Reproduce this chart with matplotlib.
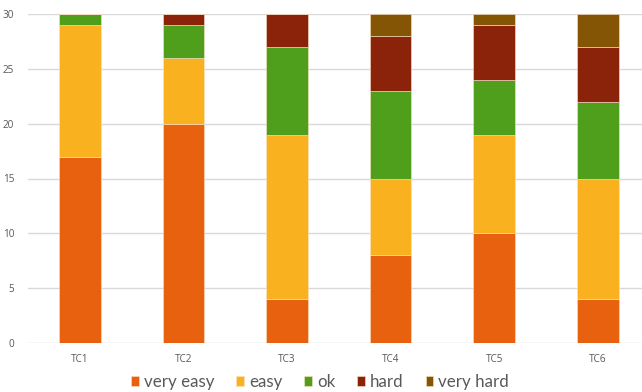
import matplotlib
matplotlib.use("Agg")
import matplotlib.pyplot as plt
import numpy as np

categories = ["TC1", "TC2", "TC3", "TC4", "TC5", "TC6"]
series_names = ["very easy", "easy", "ok", "hard", "very hard"]
very_easy = [17, 20, 4, 8, 10, 4]
easy = [12, 6, 15, 7, 9, 11]
ok = [1, 3, 8, 8, 5, 7]
hard = [0, 1, 3, 5, 5, 5]
very_hard = [0, 0, 0, 2, 1, 3]
y_ticks = [0, 5, 10, 15, 20, 25, 30]

colors = ["#E8610F", "#F9B11F", "#4F9E1C", "#8B230B", "#845504"]

W, H = 642, 392
fig = plt.figure(figsize=(W / 100, H / 100), dpi=100)
left_px, bottom_px, top_px = 28, 343, 14
ax = fig.add_axes([left_px / W, (H - bottom_px) / H, 1 - left_px / W, (bottom_px - top_px) / H])

step_px = 103.6
x = np.arange(len(categories))
bottom = np.zeros(len(categories))
for name, vals, c in zip(series_names, [very_easy, easy, ok, hard, very_hard], colors):
    ax.bar(x, vals, width=0.4, bottom=bottom, color=c, edgecolor="#FBE3C8",
           linewidth=0.4, label=name, zorder=3)
    bottom += np.array(vals)

ax.set_xlim(-0.5, -0.5 + (W - left_px) / step_px)
ax.set_ylim(0, 30)
ax.set_yticks(y_ticks)
ax.set_xticks(x)
ax.set_xticklabels(categories)
ax.grid(axis="y", color="#D9D9D9", linewidth=1, zorder=0)
for s in ax.spines.values():
    s.set_visible(False)
ax.tick_params(axis="both", length=0, labelsize=7.2, colors="#595959")
ax.tick_params(axis="y", pad=10)
ax.tick_params(axis="x", pad=8)
for lbl in ax.get_xticklabels() + ax.get_yticklabels():
    lbl.set_family("Open Sans")

leg = fig.legend(loc="center", bbox_to_anchor=(320 / W, 1 - 382 / H), ncol=5,
                 frameon=False, handlelength=0.45, handleheight=0.45, handletextpad=0.3,
                 columnspacing=1.3, prop={"family": "Lato", "size": 12.2})
for t in leg.get_texts():
    t.set_color("#595959")

fig.savefig("out.png", dpi=100)
